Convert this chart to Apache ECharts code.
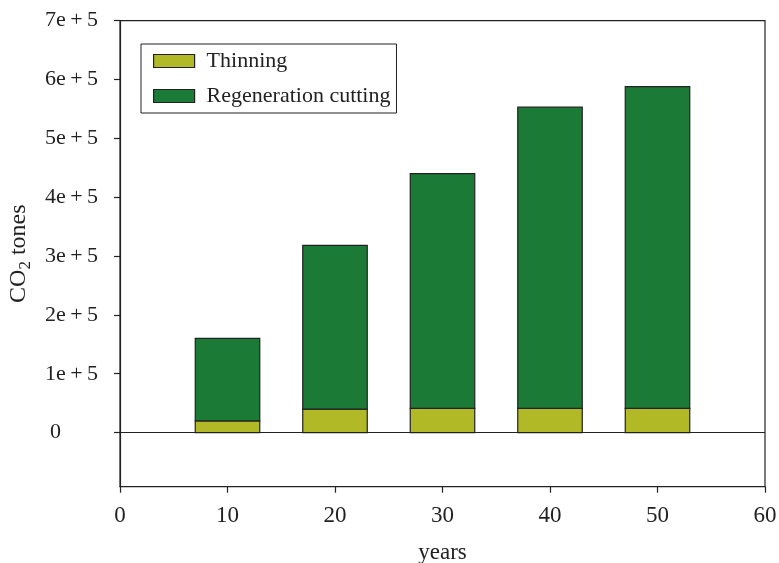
<!DOCTYPE html>
<html>
<head>
<meta charset="utf-8">
<script src="https://cdn.jsdelivr.net/npm/echarts@6/dist/echarts.min.js"></script>
<style>
  html, body { margin: 0; padding: 0; background: #fff; }
  #chart { width: 779px; height: 563px; }
</style>
</head>
<body>
<div id="chart"></div>
<script>
// Harvest years and CO2 removed per harvest type (tonnes)
const years = [10, 20, 30, 40, 50];
const thinning = [20000, 40000, 41000, 41000, 41000];
const regenerationCutting = [140000, 278000, 399000, 512000, 547000];
const yTicks = [0, 100000, 200000, 300000, 400000, 500000, 600000, 700000];
const seriesNames = ['Thinning', 'Regeneration cutting'];

const FONT = 'Liberation Serif';
const INK = '#222';
const BAR_SPAN = 6; // bar width in years

// Stacked segments: [year, lower bound, upper bound]
const thinningSeg = years.map((y, i) => [y, 0, thinning[i]]);
const regenSeg = years.map((y, i) => [y, thinning[i], thinning[i] + regenerationCutting[i]]);

function renderSegment(params, api) {
  const x = api.value(0);
  const lo = api.coord([x - BAR_SPAN / 2, api.value(1)]);
  const hi = api.coord([x + BAR_SPAN / 2, api.value(2)]);
  return {
    type: 'rect',
    shape: { x: lo[0], y: hi[1], width: hi[0] - lo[0], height: lo[1] - hi[1] },
    style: api.style()
  };
}

const chart = echarts.init(document.getElementById('chart'), null, { renderer: 'canvas' });

chart.setOption({
  animation: false,
  backgroundColor: '#fff',
  textStyle: { fontFamily: FONT, color: INK },
  grid: {
    left: 120, right: 14, top: 20.7, bottom: 76.3,
    outerBoundsMode: 'none',
    containLabel: false,
    show: true, borderColor: INK, borderWidth: 1.2, backgroundColor: 'transparent'
  },
  legend: {
    left: 141, top: 44,
    orient: 'vertical',
    itemWidth: 41, itemHeight: 13, itemGap: 13,
    padding: [6, 6, 6, 12],
    borderColor: INK, borderWidth: 1,
    icon: 'rect',
    itemStyle: { borderColor: INK, borderWidth: 1.2 },
    textStyle: { fontFamily: FONT, fontSize: 22, color: INK, padding: [0, 0, 0, 7] },
    data: seriesNames
  },
  xAxis: {
    type: 'value', min: 0, max: 60, interval: 10,
    name: 'years', nameLocation: 'middle', nameGap: 55,
    nameTextStyle: { fontFamily: FONT, fontSize: 23, color: INK },
    axisLine: { onZero: false, lineStyle: { color: INK, width: 1.2 } },
    axisTick: { inside: false, length: 6, lineStyle: { color: INK, width: 1.2 } },
    axisLabel: { fontFamily: FONT, fontSize: 23, color: INK, margin: 18 },
    splitLine: { show: false }
  },
  yAxis: {
    type: 'value', min: -92000, max: 700000,
    name: 'CO{sub|2} tones', nameLocation: 'middle', nameRotate: 90, nameGap: 77,
    nameTextStyle: {
      fontFamily: FONT, fontSize: 24, color: INK,
      rich: {
        sub: { fontFamily: FONT, fontSize: 17, color: INK, padding: [14, 0, 0, 0] }
      }
    },
    axisLine: { onZero: false, lineStyle: { color: INK, width: 1.2 } },
    axisTick: { inside: false, length: 6, customValues: yTicks, lineStyle: { color: INK, width: 1.2 } },
    axisLabel: {
      customValues: yTicks,
      fontFamily: FONT, fontSize: 22, color: INK, margin: 22,
      formatter: function (v) {
        if (v === 0) return '{z|0}';
        return (v / 100000) + 'e\u2009+\u20095';
      },
      rich: { z: { fontFamily: FONT, fontSize: 22, color: INK, padding: [0, 37, 0, 0] } }
    },
    splitLine: { show: false }
  },
  series: [
    {
      name: seriesNames[0],
      type: 'custom',
      renderItem: renderSegment,
      encode: { x: 0, y: [1, 2] },
      itemStyle: { color: '#b1b927', borderColor: INK, borderWidth: 1.2 },
      data: thinningSeg,
      markLine: {
        silent: true, symbol: 'none', label: { show: false },
        lineStyle: { color: INK, width: 1.2, type: 'solid' },
        data: [{ yAxis: 0 }]
      },
      z: 2
    },
    {
      name: seriesNames[1],
      type: 'custom',
      renderItem: renderSegment,
      encode: { x: 0, y: [1, 2] },
      itemStyle: { color: '#1b7a35', borderColor: INK, borderWidth: 1.2 },
      data: regenSeg,
      z: 2
    }
  ]
});
</script>
</body>
</html>
